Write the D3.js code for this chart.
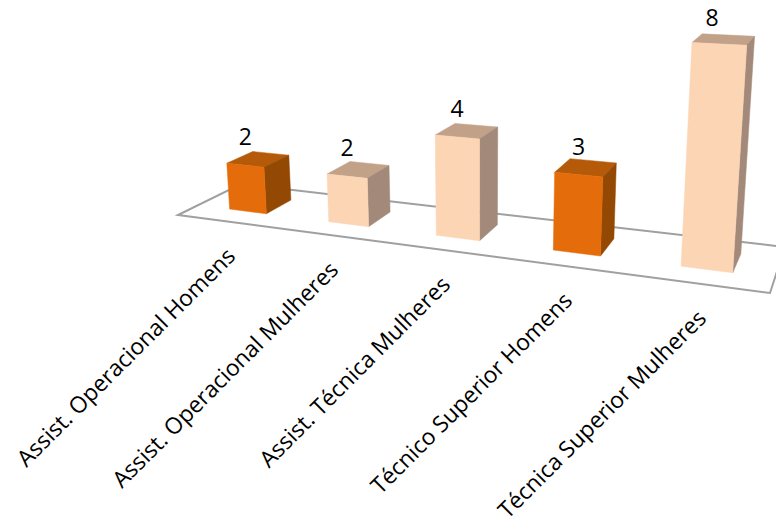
<!DOCTYPE html>
<html>
<head>
<meta charset="utf-8">
<script src="https://d3js.org/d3.v7.min.js"></script>
<style>
  html, body { margin: 0; padding: 0; background: #fff; overflow: hidden; }
  svg { display: block; }
  text { font-family: "Open Sans", sans-serif; fill: #000; }
</style>
</head>
<body>
<svg id="chart" width="776" height="524"></svg>
<script>
// chart data
const categories = [
  "Assist. Operacional Homens",
  "Assist. Operacional Mulheres",
  "Assist. Técnica Mulheres",
  "Técnico Superior Homens",
  "Técnica Superior Mulheres"
];
const values = [2, 2, 4, 3, 8];
const groups = ["Homens", "Mulheres", "Mulheres", "Homens", "Mulheres"];

const w = 776, h = 524;
const svg = d3.select("#chart");

// camera: floor corners on screen (front-left, front-right, back-right, back-left)
const floorQuad = [[178, 215], [770, 293], [785, 247], [241, 184]];
const verticalVanish = [482, 4350];

// unit square -> floor quad
function floorMatrix(q) {
  const [[x0, y0], [x1, y1], [x2, y2], [x3, y3]] = q;
  const dx1 = x1 - x2, dx2 = x3 - x2, sx = x0 - x1 + x2 - x3;
  const dy1 = y1 - y2, dy2 = y3 - y2, sy = y0 - y1 + y2 - y3;
  const den = dx1 * dy2 - dx2 * dy1;
  const g = (sx * dy2 - dx2 * sy) / den;
  const k = (dx1 * sy - sx * dy1) / den;
  return [
    [x1 - x0 + g * x1, x3 - x0 + k * x3, x0],
    [y1 - y0 + g * y1, y3 - y0 + k * y3, y0],
    [g, k, 1]
  ];
}
const M = floorMatrix(floorQuad);

// u along the axis, v into the depth, t = height in camera units
function project(u, v, t) {
  const X = M[0][0] * u + M[0][1] * v + M[0][2] - t * verticalVanish[0];
  const Y = M[1][0] * u + M[1][1] * v + M[1][2] - t * verticalVanish[1];
  const W = M[2][0] * u + M[2][1] * v + M[2][2] - t;
  return [X / W, Y / W];
}

// scales
const xScale = d3.scaleBand().domain(d3.range(categories.length)).range([0.005, 1.002])
  .paddingInner(0.62).paddingOuter(0.31);
const yScale = d3.scaleLinear().domain([0, 8]).range([0, 0.0445]);
const depth = d3.scaleLinear().domain([0, 1]).range([0.3, 0.72]);
const colors = d3.scaleOrdinal().domain(["Homens", "Mulheres"]).range([
  { front: "#E46C0A", top: "#B55A08", side: "#934803" },
  { front: "#FCD5B5", top: "#C2A189", side: "#A2897A" }
]);

const poly = d3.line();

// floor
const floorPts = [[0, 0], [1, 0], [1, 1], [0, 1]].map(d => project(d[0], d[1], 0));
svg.append("path")
  .attr("d", poly(floorPts) + "Z")
  .attr("fill", "#fff")
  .attr("stroke", "#A0A0A0")
  .attr("stroke-width", 2);

// bars
const bars = svg.selectAll("g.bar")
  .data(values)
  .join("g")
  .attr("class", "bar");

bars.each(function (d, i) {
  const g = d3.select(this);
  const u0 = xScale(i), u1 = u0 + xScale.bandwidth();
  const v0 = depth(0), v1 = depth(1);
  const t = yScale(d);
  const c = colors(groups[i]);
  const face = (pts, fill) => g.append("path")
    .attr("d", poly(pts.map(p => project(p[0], p[1], p[2]))) + "Z")
    .attr("fill", fill)
    .attr("stroke", fill)
    .attr("stroke-width", 0.5);
  face([[u0, v0, t], [u1, v0, t], [u1, v1, t], [u0, v1, t]], c.top);
  face([[u1, v0, 0], [u1, v1, 0], [u1, v1, t], [u1, v0, t]], c.side);
  face([[u0, v0, 0], [u1, v0, 0], [u1, v0, t], [u0, v0, t]], c.front);
});

// value labels (the tall bar's label sits a bit left of its bar)
svg.selectAll("text.value")
  .data(values)
  .join("text")
  .attr("class", "value")
  .attr("text-anchor", "middle")
  .attr("font-size", 23)
  .attr("x", (d, i) => project(xScale(i) + xScale.bandwidth() / 2, depth(0), yScale(d))[0] - (i === 4 ? 7 : 0))
  .attr("y", (d, i) => project(xScale(i) + xScale.bandwidth() / 2, depth(0), yScale(d))[1] - (i === 4 ? 18 : 20))
  .text(d => d);

// category labels
svg.selectAll("text.cat")
  .data(categories)
  .join("text")
  .attr("class", "cat")
  .attr("text-anchor", "end")
  .attr("font-size", 22.8)
  .attr("transform", (d, i) => {
    const p = project(xScale(i) + xScale.bandwidth() / 2, 0, 0);
    return `translate(${p[0] + 8},${p[1] + 36}) rotate(-45)`;
  })
  .text(d => d);
</script>
</body>
</html>
